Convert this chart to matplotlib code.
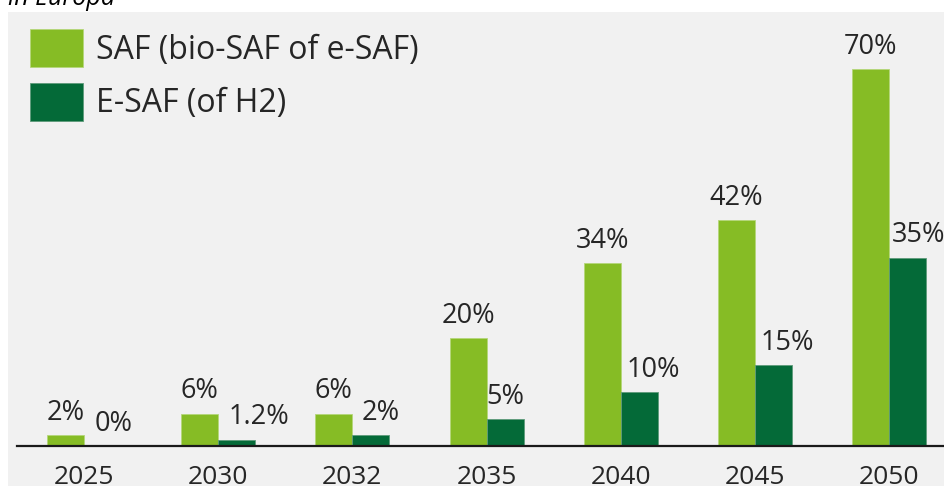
import matplotlib
matplotlib.use("Agg")
import matplotlib.pyplot as plt
import numpy as np

plt.rcParams['font.family'] = ['Open Sans', 'DejaVu Sans']

years = ["2025", "2030", "2032", "2035", "2040", "2045", "2050"]
saf = [2, 6, 6, 20, 34, 42, 70]
esaf = [0, 1.2, 2, 5, 10, 15, 35]
saf_labels = ["2%", "6%", "6%", "20%", "34%", "42%", "70%"]
esaf_labels = ["0%", "1.2%", "2%", "5%", "10%", "15%", "35%"]

light = "#86bc25"
dark = "#046a38"
txt = "#262626"

# horizontal nudges (points) of the e-SAF labels, as placed in the original
esaf_dx = [8, 16, 7, 0, 10, 10, 8]

W, H = 945, 486
fig = plt.figure(figsize=(W / 100, H / 100), dpi=100)
fig.patch.set_facecolor("white")

# grey panel
fig.patches.append(plt.Rectangle((8 / W, 0), 1, 1 - 12 / H, transform=fig.transFigure,
                                 facecolor="#f1f1f1", edgecolor="none", zorder=-10))
fig.text(8 / W, 1 - 5 / H, "in Europa", style="italic", fontsize=18, color="black",
         va="baseline", ha="left")

ax = fig.add_axes([17 / W, 1 - 446 / H, (W - 17) / W, (446 - 12) / H])
ax.set_facecolor("none")
ax.set_zorder(1)

x = np.arange(len(years))
w = 0.276
ax.bar(x - w / 2, saf, w, color=light, edgecolor="#b5d67a", linewidth=0.6,
       label="SAF (bio-SAF of e-SAF)")
ax.bar(x + w / 2, esaf, w, color=dark, edgecolor="#5e9a7a", linewidth=0.6,
       label="E-SAF (of H2)")

for i in range(len(years)):
    ax.annotate(saf_labels[i], (x[i] - w / 2, saf[i]), xytext=(0, 16),
                textcoords="offset points", ha="center", va="center",
                fontsize=19.5, color=txt)
    ax.annotate(esaf_labels[i], (x[i] + w / 2, esaf[i]), xytext=(esaf_dx[i], 16),
                textcoords="offset points", ha="center", va="center",
                fontsize=19.5, color=txt)

ax.set_xlim((17 - 84) / 134.2, (945 - 84) / 134.2)
ax.set_ylim(0, 434 / 5.38)
ax.set_xticks(x)
ax.set_xticklabels(years, fontsize=19, color=txt)
ax.tick_params(axis="x", length=0, pad=14)
ax.set_yticks([])
for s in ["top", "right", "left"]:
    ax.spines[s].set_visible(False)
ax.spines["bottom"].set_color("#1a1a1a")
ax.spines["bottom"].set_linewidth(1.6)

leg = ax.legend(loc="upper left", bbox_to_anchor=(30 / W, 1 - 29 / H),
                bbox_transform=fig.transFigure, frameon=False,
                fontsize=23, handlelength=1.66, handleheight=1.45,
                handletextpad=0.42, labelspacing=0.5, borderaxespad=0, borderpad=0)
for t in leg.get_texts():
    t.set_color(txt)

fig.savefig("out.png", dpi=100)
